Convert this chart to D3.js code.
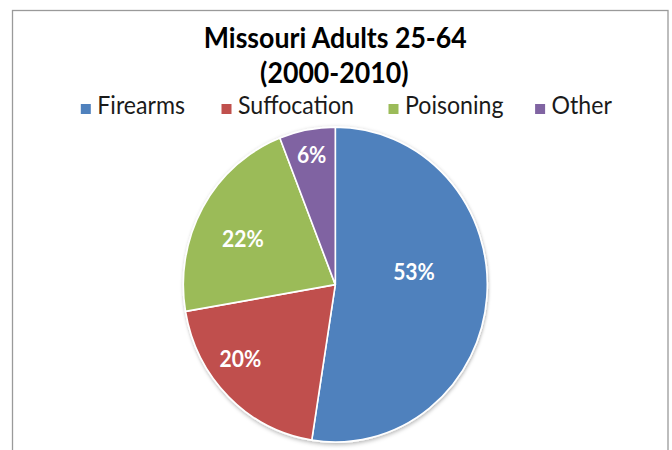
<!DOCTYPE html>
<html>
<head>
<meta charset="utf-8">
<script src="https://cdn.jsdelivr.net/npm/d3@7"></script>
<style>
  html, body { margin: 0; padding: 0; background: #fff; }
  svg { display: block; }
  text { font-family: Lato, "Open Sans", sans-serif; }
</style>
</head>
<body>
<svg id="chart" width="672" height="450"></svg>
<script>
// Suicide deaths by method, Missouri adults aged 25-64, 2000-2010 (percent)
const categories = ["Firearms", "Suffocation", "Poisoning", "Other"];
const shares = [53, 20, 22, 6];
const colors = ["#4F81BD", "#C0504D", "#9BBB59", "#8064A2"];
const titleLines = ["Missouri Adults 25-64", "(2000-2010)"];

// Layout
const W = 672, H = 450;
const cx = 335.3, cy = 284.6;
const R = 152;            // horizontal radius
const yStretch = 1.036;   // whole chart is drawn slightly taller than wide
const textStretch = 1.06; // glyphs a touch taller than the font's own shape
// where each slice label sits: fraction of radius, angular nudge (deg)
const labelSpot = [
  { f: 0.524, da: -13.4 },
  { f: 0.785, da: 8.2 },
  { f: 0.672, da: -4.1 },
  { f: 0.839, da: 0 }
];
// left edge of each legend entry's text
const legendTextX = [97.3, 238, 405, 551.6];

const svg = d3.select("#chart");

// drop shadow under the pie
const defs = svg.append("defs");
const shadow = defs.append("filter").attr("id", "pieShadow")
  .attr("x", "-10%").attr("y", "-10%").attr("width", "120%").attr("height", "125%");
shadow.append("feDropShadow")
  .attr("dx", 0.5).attr("dy", 1.5).attr("stdDeviation", 1.8)
  .attr("flood-color", "#000").attr("flood-opacity", 0.3);

// chart frame
svg.append("rect")
  .attr("x", 12.5).attr("y", 10.5)
  .attr("width", 655.5).attr("height", 470)
  .attr("fill", "#fff")
  .attr("stroke", "#9a9a9a").attr("stroke-width", 1.3);

// helper: scale a text's font size so it spans the wanted width
function fitWidth(sel, target, base = 100) {
  sel.attr("font-size", base);
  const w = sel.node().getComputedTextLength();
  const size = base * target / w;
  sel.attr("font-size", size);
  return size;
}
// helper: place a text at (x, y) with a slight vertical stretch
function placeAt(x, y) {
  return `translate(${x},${y}) scale(1,${textStretch})`;
}

// title
const t1 = svg.append("text")
  .attr("transform", placeAt(cx, 47.7))
  .attr("text-anchor", "middle")
  .attr("font-weight", 700).attr("fill", "#000")
  .text(titleLines[0]);
const titleSize = fitWidth(t1, 263);
svg.append("text")
  .attr("transform", placeAt(cx - 1, 83.3))
  .attr("text-anchor", "middle")
  .attr("font-weight", 700).attr("fill", "#000")
  .attr("font-size", titleSize)
  .text(titleLines[1]);

// legend
const color = d3.scaleOrdinal().domain(categories).range(colors);
const legend = svg.append("g").attr("class", "legend");
const probe = legend.append("text").text(categories[0]);
const legendSize = fitWidth(probe, 87.7);
probe.remove();

const sw = 10, gapText = 6.5, legendBase = 114.3;
const items = legend.selectAll("g.item").data(categories).join("g")
  .attr("class", "item")
  .attr("transform", (d, i) => `translate(${legendTextX[i] - sw - gapText},0)`);
items.append("rect")
  .attr("width", sw).attr("height", sw)
  .attr("y", legendBase - 10.3)
  .attr("fill", d => color(d));
items.append("text")
  .attr("transform", placeAt(sw + gapText, legendBase))
  .attr("font-size", legendSize).attr("fill", "#1a1a1a")
  .text(d => d);

// pie
const pie = d3.pie().sort(null).value(d => d)(shares);
const arc = d3.arc().innerRadius(0).outerRadius(R);

const pieG = svg.append("g")
  .attr("transform", `translate(${cx},${cy}) scale(1,${yStretch})`)
  .attr("filter", "url(#pieShadow)");
pieG.selectAll("path").data(pie).join("path")
  .attr("d", arc)
  .attr("fill", (d, i) => color(categories[i]))
  .attr("stroke", "#fff")
  .attr("stroke-width", 1.6)
  .attr("stroke-linejoin", "round");

// slice value labels
const labelG = svg.append("g");
const labels = labelG.selectAll("text").data(pie).join("text")
  .attr("text-anchor", "middle")
  .attr("font-weight", 700)
  .attr("fill", "#fff")
  .text(d => d.value + "%");
const labelSize = fitWidth(labels.filter((d, i) => i === 0), 41.7);
labels.attr("font-size", labelSize)
  .attr("dy", "0.36em")
  .attr("transform", (d, i) => {
    const a = (d.startAngle + d.endAngle) / 2 + labelSpot[i].da * Math.PI / 180;
    const x = cx + Math.sin(a) * R * labelSpot[i].f;
    const y = cy - Math.cos(a) * R * labelSpot[i].f * yStretch;
    return placeAt(x, y);
  });
</script>
</body>
</html>
